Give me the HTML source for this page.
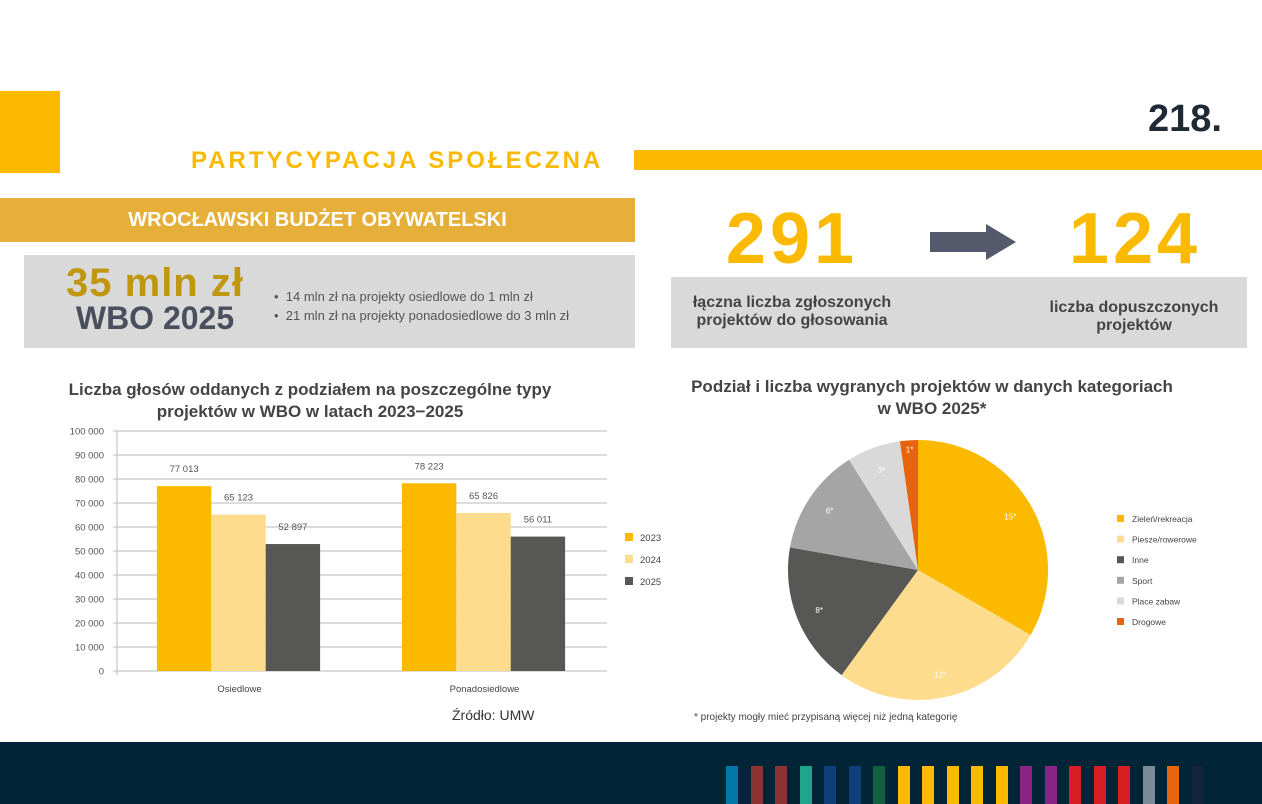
<!DOCTYPE html>
<html><head><meta charset="utf-8">
<style>
body{margin:0;width:1262px;height:804px;position:relative;overflow:hidden;background:#fff;font-family:"Liberation Sans",sans-serif}
.a{position:absolute}
.t{white-space:nowrap}
</style></head><body>
<div class="a" style="left:0;top:91px;width:60px;height:82px;background:#FBBA00"></div>
<div class="a t" style="left:191px;top:147px;font-size:24px;font-weight:bold;color:#FBBA00;letter-spacing:3px">PARTYCYPACJA SPOŁECZNA</div>
<div class="a" style="left:634px;top:150px;width:628px;height:20px;background:#FBBA00"></div>
<div class="a t" style="right:40px;top:98px;font-size:38px;font-weight:bold;color:#1f2a36">218.</div>
<div class="a" style="left:0;top:198px;width:635px;height:44px;background:#E5AF3A;color:#fff;font-weight:bold;font-size:20px;text-align:center;line-height:44px">WROCŁAWSKI BUDŻET OBYWATELSKI</div>
<div class="a" style="left:24px;top:255px;width:611px;height:93px;background:#d9d9d9"></div>
<div class="a t" style="left:24px;width:262px;text-align:center;top:261px;font-size:40px;font-weight:bold;color:#C0960E;letter-spacing:1px">35 mln zł</div>
<div class="a t" style="left:24px;width:262px;text-align:center;top:300px;font-size:32px;font-weight:bold;color:#4a4f5e">WBO 2025</div>
<div class="a t" style="left:274px;top:287px;font-size:13px;color:#555;line-height:19px">•&nbsp;&nbsp;14 mln zł na projekty osiedlowe do 1 mln zł<br>•&nbsp;&nbsp;21 mln zł na projekty ponadosiedlowe do 3 mln zł</div>
<div class="a" style="left:671px;top:277px;width:576px;height:71px;background:#d9d9d9"></div>
<div class="a t" style="left:692px;width:200px;text-align:center;top:198px;font-size:72px;font-weight:bold;color:#FBBA00;letter-spacing:4px">291</div>
<div class="a t" style="left:1035px;width:200px;text-align:center;top:198px;font-size:72px;font-weight:bold;color:#FBBA00;letter-spacing:4px">124</div>
<svg class="a" style="left:928px;top:222px" width="90" height="40"><polygon points="2,10 58,10 58,2 88,20 58,38 58,30 2,30" fill="#545a6b"/></svg>
<div class="a t" style="left:672px;width:240px;text-align:center;top:294px;font-size:16px;font-weight:bold;color:#444;line-height:18px">łączna liczba zgłoszonych<br>projektów do głosowania</div>
<div class="a t" style="left:1014px;width:240px;text-align:center;top:299px;font-size:16px;font-weight:bold;color:#444;line-height:18px">liczba dopuszczonych<br>projektów</div>
<div class="a t" style="left:10px;width:600px;text-align:center;top:379px;font-size:17px;font-weight:bold;color:#444;line-height:22px">Liczba głosów oddanych z podziałem na poszczególne typy<br>projektów w WBO w latach 2023−2025</div>
<div class="a t" style="left:632px;width:600px;text-align:center;top:376px;font-size:17px;font-weight:bold;color:#444;line-height:22px">Podział i liczba wygranych projektów w danych kategoriach<br>w WBO 2025*</div>
<svg class="a" id="bar" style="left:0;top:0" width="680" height="740"></svg>
<div class="a t" style="left:452px;top:707px;font-size:14px;color:#333">Źródło: UMW</div>
<svg class="a" id="pie" style="left:680px;top:420px" width="582" height="300"></svg>
<div class="a t" style="left:694px;top:712px;font-size:10px;color:#444">* projekty mogły mieć przypisaną więcej niż jedną kategorię</div>
<div class="a" style="left:0;top:742px;width:1262px;height:62px;background:#012536"></div>
<div class="a" id="stripes" style="left:0;top:0"></div>
<script>
const NS="http://www.w3.org/2000/svg";
function mk(p,t,a){const e=document.createElementNS(NS,t);for(const k in a)e.setAttribute(k,a[k]);p.appendChild(e);return e;}
const categories=["Osiedlowe","Ponadosiedlowe"];
const years=["2023","2024","2025"];
const v2023=[77013,78223];
const v2024=[65123,65826];
const v2025=[52897,56011];
const yTicks=[0,10000,20000,30000,40000,50000,60000,70000,80000,90000,100000];
const barColors=["#FBBA00","#FDDC8E","#575755"];
const bar=document.getElementById('bar');
const X0=117,X1=607,Y0=671,Y1=431;
const y=v=>Y0-(v/100000)*(Y0-Y1);
const fmt=v=>v===0?"0":String(v).replace(/\B(?=(\d{3})+(?!\d))/g," ");
yTicks.forEach(t=>{
 const l=mk(bar,'line',{x1:X0-4,x2:X1,y1:y(t),y2:y(t),stroke:'#c8c8c8','stroke-width':1.2});
 
 const tx=mk(bar,'text',{x:X0-13,y:y(t)+3.5,'text-anchor':'end','font-size':9.5,fill:'#555'});tx.textContent=fmt(t);
 
});
mk(bar,'line',{x1:X0,x2:X0,y1:Y1,y2:Y0+4,stroke:'#bbb'});
const series=[v2023,v2024,v2025];
const gw=(X1-X0)/categories.length,bw=gw*0.222;
categories.forEach((c,i)=>{
 const gx=X0+gw*i;
 const cl=mk(bar,'text',{x:gx+gw/2,y:692,'text-anchor':'middle','font-size':9.5,fill:'#444'});cl.textContent=c;
 
 series.forEach((s,j)=>{
  const bx=gx+gw*0.163+bw*j;
  const r=mk(bar,'rect',{x:bx,y:y(s[i]),width:bw,height:Y0-y(s[i]),fill:barColors[j]});
  
  const lt=mk(bar,'text',{x:bx+bw/2,y:y(s[i])-14,'text-anchor':'middle','font-size':9.5,fill:'#555'});lt.textContent=fmt(s[i]);
  
 });
});
years.forEach((yr,j)=>{
 const r=mk(bar,'rect',{x:625,y:533+j*22,width:8,height:8,fill:barColors[j]});
 
 const t=mk(bar,'text',{x:640,y:541+j*22,'font-size':9.5,fill:'#444'});t.textContent=yr;
 
});
const pieLabels=["Zieleń/rekreacja","Piesze/rowerowe","Inne","Sport","Place zabaw","Drogowe"];
const pieValues=[15,12,8,6,3,1];
const pieColors=["#FBBA00","#FDDC8E","#575755","#A5A5A5","#D9D9D9","#E8640C"];
const pie=document.getElementById('pie');
const cx=238,cy=150,R=130;
const tot=pieValues.reduce((a,b)=>a+b,0);
let ang=0;
pieValues.forEach((v,i)=>{
 const a0=ang,a1=ang+v/tot*2*Math.PI;ang=a1;
 const p=(a,r)=>[cx+r*Math.sin(a),cy-r*Math.cos(a)];
 const [x0,y0]=p(a0,R),[x1,y1]=p(a1,R);
 const s=mk(pie,'path',{d:`M${cx},${cy}L${x0},${y0}A${R},${R} 0 ${a1-a0>Math.PI?1:0} 1 ${x1},${y1}Z`,fill:pieColors[i]});
 
 const am=(a0+a1)/2,[lx,ly]=p(am,v<2?R*0.93:R*0.82);
 const t=mk(pie,'text',{x:lx,y:ly+3,'text-anchor':'middle','font-size':8,fill:'#fff'});t.textContent=v+'*';
 
 const r=mk(pie,'rect',{x:437,y:95+i*20.6,width:7,height:7,fill:pieColors[i]});
 
 const lt=mk(pie,'text',{x:452,y:102+i*20.6,'font-size':8.5,fill:'#444'});lt.textContent=pieLabels[i];
 
});
const stripeColors=["#0077A8","#8B3333","#8B3333","#1FA58C","#0F3F7A","#0F3F7A","#12603E","#FBBA00","#FBBA00","#FBBA00","#FBBA00","#FBBA00","#8B2384","#8B2384","#D71E22","#D71E22","#D71E22","#7A8A96","#E8640C","#13243A"];
const st=document.getElementById('stripes');
stripeColors.forEach((c,i)=>{
 const d=document.createElement('div');
 
 
 d.style.cssText=`position:absolute;left:${726+i*24.5}px;top:766px;width:12px;height:38px;background:${c}`;
 st.appendChild(d);
});
</script>
</body></html>
